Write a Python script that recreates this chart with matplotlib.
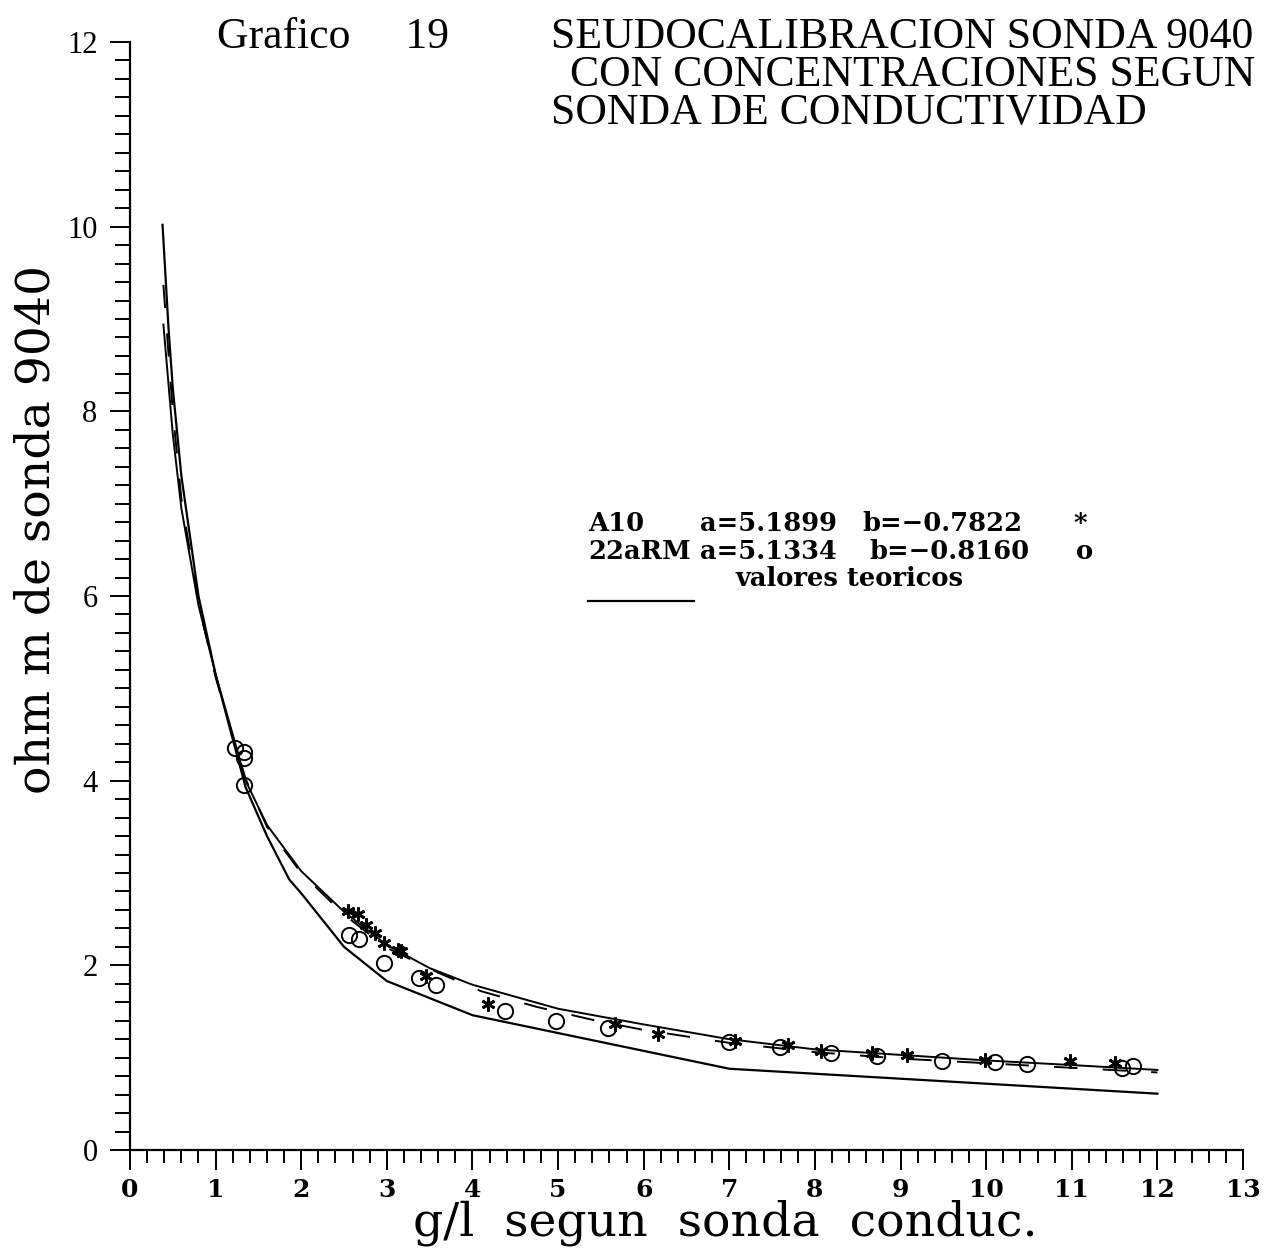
import matplotlib
matplotlib.use("Agg")
import matplotlib.pyplot as plt
import numpy as np

# datos
# A10 (asteriscos)
a10_x = [2.55, 2.66, 2.76, 2.86, 2.97, 3.13, 3.17, 3.46, 4.18, 5.66, 6.17,
         7.07, 7.69, 8.07, 8.67, 9.08, 9.99, 10.98, 11.5]
a10_y = [2.59, 2.56, 2.44, 2.35, 2.24, 2.17, 2.15, 1.885, 1.58, 1.365, 1.26,
         1.18, 1.14, 1.07, 1.05, 1.03, 0.98, 0.96, 0.94]

# 22aRM (circulos)
rm_x = [1.23, 1.33, 1.33, 1.33, 2.56, 2.67, 2.97, 3.37, 3.57, 4.38, 4.98, 5.58,
        7.0, 7.59, 8.19, 8.73, 9.48, 10.1, 10.48, 11.59, 11.71]
rm_y = [4.35, 4.31, 4.25, 3.95, 2.33, 2.29, 2.02, 1.86, 1.79, 1.51, 1.40, 1.32,
        1.17, 1.12, 1.05, 1.02, 0.96, 0.95, 0.93, 0.885, 0.91]

# curva ajustada (continua)
fit1_x = [0.39, 0.5, 0.6, 0.8, 1.0, 1.2, 1.35, 1.6, 2.0, 2.5, 3.0, 3.5, 4.0,
          5.0, 6.0, 7.0, 8.0, 9.0, 10.0, 11.0, 12.0]
fit1_y = [8.94, 7.75, 6.95, 5.9, 5.15, 4.5, 4.0, 3.52, 3.02, 2.58, 2.22, 1.97,
          1.79, 1.53, 1.36, 1.2, 1.09, 1.03, 0.97, 0.92, 0.867]

# curva ajustada (discontinua)
fit2_x = [0.39, 0.5, 0.6, 0.8, 1.0, 1.2, 1.35, 1.6, 2.0, 2.5, 3.0, 3.6, 4.1,
          4.75, 5.4, 6.0, 7.0, 8.0, 9.0, 10.0, 11.0, 12.0]
fit2_y = [9.37, 8.0, 7.05, 5.92, 5.12, 4.48, 4.02, 3.5, 3.0, 2.55, 2.19, 1.92,
          1.72, 1.55, 1.41, 1.30, 1.16, 1.06, 0.99, 0.94, 0.89, 0.84]

# valores teoricos
teo_x = [0.38, 0.45, 0.5, 0.6, 0.8, 1.0, 1.2, 1.35, 1.6, 1.86, 2.0, 2.5, 3.0,
         4.0, 7.0, 12.0]
teo_y = [10.02, 8.9, 8.25, 7.3, 6.0, 5.15, 4.45, 3.93, 3.4, 2.93, 2.78, 2.2,
         1.83, 1.46, 0.88, 0.61]

x_ticks = list(range(0, 14))
y_ticks = list(range(0, 13, 2))

plt.rcParams['font.family'] = 'DejaVu Serif'

fig = plt.figure(figsize=(12.66, 12.51), dpi=100)
ax = fig.add_axes([130 / 1266, 101 / 1251, 1113 / 1266, 1108 / 1251])

ax.plot(teo_x, teo_y, color='black', lw=1.6)
ax.plot(fit1_x, fit1_y, color='black', lw=1.4)
ax.plot(fit2_x, fit2_y, color='black', lw=1.4, linestyle=(0, (12, 13)))
ax.plot(a10_x, a10_y, linestyle='none', marker=(6, 2, 0), markersize=10,
        markeredgewidth=2.0, color='black')
ax.plot(rm_x, rm_y, linestyle='none', marker='o', markersize=11,
        markeredgewidth=1.4, markerfacecolor='none', color='black')

ax.set_xlim(0, 13)
ax.set_ylim(0, 12)
ax.spines['top'].set_visible(False)
ax.spines['right'].set_visible(False)
ax.spines['left'].set_linewidth(1.6)
ax.spines['bottom'].set_linewidth(1.6)

ax.set_xticks(x_ticks)
ax.set_xticklabels([str(t) for t in x_ticks], fontsize=18, fontweight='bold',
                   family='DejaVu Serif')
ax.set_xticks(np.arange(0, 13.01, 0.2), minor=True)
ax.set_yticks(y_ticks)
ax.set_yticklabels([str(t) for t in y_ticks], fontsize=22,
                   family='Liberation Serif')
ax.set_yticks(np.arange(0, 12.01, 0.2), minor=True)
ax.tick_params(axis='x', which='major', length=14.4, width=1.4, pad=6)
ax.tick_params(axis='x', which='minor', length=9.4, width=1.4)
ax.tick_params(axis='y', which='major', length=14.4, width=1.4, pad=9)
ax.tick_params(axis='y', which='minor', length=10.8, width=1.4)

# titulo
tf = dict(family='Liberation Serif', fontsize=31.5, va='baseline')
fig.text(217 / 1266, 1 - 48 / 1251, 'Grafico     19', **tf)
fig.text(551 / 1266, 1 - 48 / 1251, 'SEUDOCALIBRACION SONDA 9040', **tf)
fig.text(570 / 1266, 1 - 86 / 1251, 'CON CONCENTRACIONES SEGUN', **tf)
fig.text(551 / 1266, 1 - 124 / 1251, 'SONDA DE CONDUCTIVIDAD', **tf)

# ejes
fig.text(725 / 1266, 1 - 1236 / 1251, 'g/l  segun  sonda  conduc.',
         fontsize=34, ha='center', va='baseline')
fig.text(37 / 1266, 1 - 530 / 1251, 'ohm m de sonda 9040',
         fontsize=34, rotation=90, ha='center', va='center')

# leyenda
lf = dict(fontsize=18.5, fontweight='bold', va='baseline')
fig.text(588 / 1266, 1 - 531 / 1251, 'A10', **lf)
fig.text(700 / 1266, 1 - 531 / 1251, 'a=5.1899', **lf)
fig.text(862 / 1266, 1 - 531 / 1251, 'b=\u22120.7822', **lf)
fig.text(1073 / 1266, 1 - 531 / 1251, '*', **lf)
fig.text(588 / 1266, 1 - 559 / 1251, '22aRM', **lf)
fig.text(700 / 1266, 1 - 559 / 1251, 'a=5.1334', **lf)
fig.text(869 / 1266, 1 - 559 / 1251, 'b=\u22120.8160', **lf)
fig.text(1076 / 1266, 1 - 559 / 1251, 'o', **lf)
fig.text(735 / 1266, 1 - 586 / 1251, 'valores teoricos', **lf)
fig.lines.append(plt.Line2D([588 / 1266, 694 / 1266], [1 - 601 / 1251, 1 - 601 / 1251],
                            transform=fig.transFigure, color='black', lw=1.6))

fig.savefig('out.png', dpi=100)
